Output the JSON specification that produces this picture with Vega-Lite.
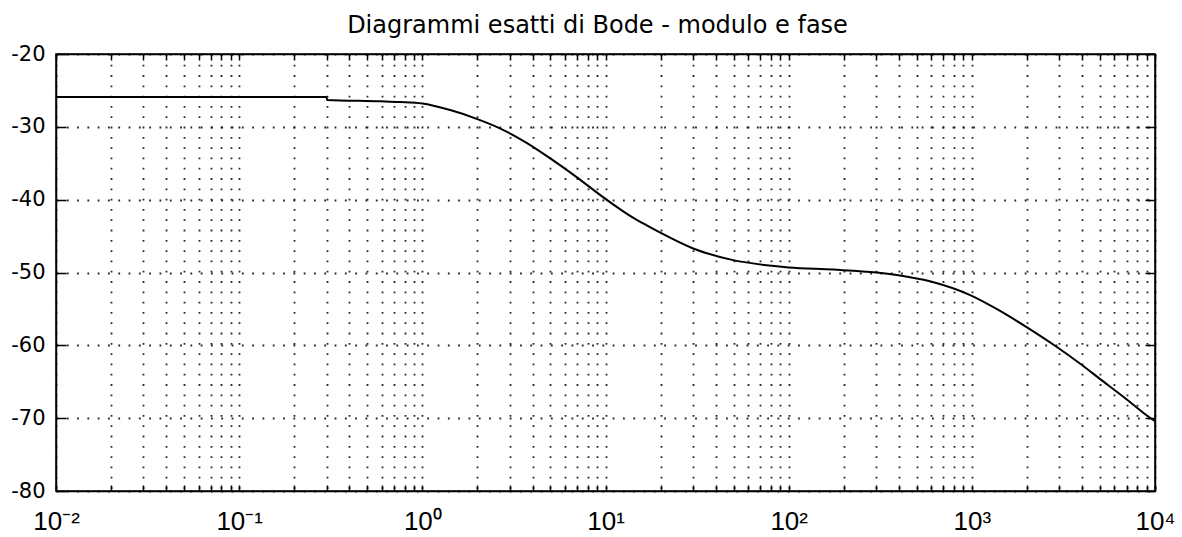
{
  "$schema": "https://vega.github.io/schema/vega-lite/v6.json",
  "width": 1099,
  "height": 437,
  "autosize": "none",
  "padding": {"left": 56, "top": 54, "right": 27, "bottom": 46},
  "background": "white",
  "title": {
    "text": "Diagrammi esatti di Bode - modulo e fase",
    "font": "DejaVu Sans",
    "fontSize": 24,
    "fontWeight": "normal",
    "color": "black",
    "anchor": "middle",
    "dx": -8,
    "offset": 5
  },
  "config": {
    "view": {"stroke": "black", "strokeWidth": 1.5},
    "axis": {
      "labelColor": "black",
      "domainColor": "black",
      "domainWidth": 1.5,
      "tickColor": "black",
      "tickWidth": 1.5,
      "labelOverlap": false,
      "labelFlush": false,
      "title": null
    }
  },
  "data": {
    "values": [
      {"x": 0.01, "y": -25.9},
      {"x": 0.3, "y": -25.9},
      {"x": 0.302, "y": -26.3},
      {"x": 0.59, "y": -26.5},
      {"x": 0.755, "y": -26.6},
      {"x": 1.0, "y": -26.8},
      {"x": 1.42, "y": -27.7},
      {"x": 1.98, "y": -28.9},
      {"x": 2.65, "y": -30.2},
      {"x": 3.71, "y": -32.2},
      {"x": 4.97, "y": -34.3},
      {"x": 6.95, "y": -36.9},
      {"x": 10, "y": -39.9},
      {"x": 14.2, "y": -42.5},
      {"x": 17, "y": -43.6},
      {"x": 19.8, "y": -44.5},
      {"x": 30.1, "y": -46.7},
      {"x": 49.8, "y": -48.3},
      {"x": 75.7, "y": -49.0},
      {"x": 100, "y": -49.3},
      {"x": 175, "y": -49.6},
      {"x": 302, "y": -50.0},
      {"x": 405, "y": -50.4},
      {"x": 590, "y": -51.2},
      {"x": 1000, "y": -53.2},
      {"x": 1365, "y": -55.0},
      {"x": 1990, "y": -57.5},
      {"x": 2900, "y": -60.2},
      {"x": 3890, "y": -62.5},
      {"x": 5000, "y": -64.6},
      {"x": 6990, "y": -67.4},
      {"x": 8990, "y": -69.6},
      {"x": 10000, "y": -70.4}
    ]
  },
  "layer": [
    {
      "mark": {"type": "line", "color": "black", "strokeWidth": 2, "clip": true, "interpolate": "monotone"},
      "encoding": {
        "x": {
          "field": "x", "type": "quantitative",
          "scale": {"type": "log", "domain": [0.01, 10000], "nice": false},
          "axis": {
            "orient": "bottom",
            "values": [0.01,0.02,0.03,0.04,0.05,0.06,0.07,0.08,0.09,0.1,0.2,0.3,0.4,0.5,0.6,0.7,0.8,0.9,1,2,3,4,5,6,7,8,9,10,20,30,40,50,60,70,80,90,100,200,300,400,500,600,700,800,900,1000,2000,3000,4000,5000,6000,7000,8000,9000,10000],
            "labelExpr": "abs(log(datum.value)/LN10 - round(log(datum.value)/LN10)) < 0.001 ? '10' + ['⁻²','⁻¹','⁰','¹','²','³','⁴'][round(log(datum.value)/LN10)+2] : ''",
            "labelFont": "Liberation Sans",
            "labelFontSize": 26,
            "labelPadding": 23,
            "tickSize": -6,
            "grid": true,
            "gridColor": "#111111",
            "gridOpacity": 0.9,
            "gridWidth": 1.8,
            "gridDash": [1.8, 8.5]
          }
        },
        "y": {
          "field": "y", "type": "quantitative",
          "scale": {"domain": [-80, -20], "nice": false, "zero": false},
          "axis": {
            "orient": "left",
            "values": [-80,-70,-60,-50,-40,-30,-20],
            "labelExpr": "'' + datum.value",
            "labelFont": "DejaVu Sans",
            "labelFontSize": 21,
            "labelPadding": 21,
            "tickSize": -10,
            "grid": true,
            "gridColor": "#111111",
            "gridOpacity": 0.9,
            "gridWidth": 1.8,
            "gridDash": [1.8, 8.5]
          }
        }
      }
    },
    {
      "mark": {"type": "line", "opacity": 0},
      "encoding": {
        "x": {
          "field": "x", "type": "quantitative",
          "scale": {"type": "log", "domain": [0.01, 10000], "nice": false},
          "axis": {
            "orient": "top",
            "values": [0.01,0.02,0.03,0.04,0.05,0.06,0.07,0.08,0.09,0.1,0.2,0.3,0.4,0.5,0.6,0.7,0.8,0.9,1,2,3,4,5,6,7,8,9,10,20,30,40,50,60,70,80,90,100,200,300,400,500,600,700,800,900,1000,2000,3000,4000,5000,6000,7000,8000,9000,10000],
            "labels": false,
            "tickSize": -6,
            "grid": false
          }
        },
        "y": {
          "field": "y", "type": "quantitative",
          "scale": {"domain": [-80, -20], "nice": false, "zero": false},
          "axis": {
            "orient": "right",
            "values": [-80,-70,-60,-50,-40,-30,-20],
            "labels": false,
            "tickSize": -10,
            "grid": false
          }
        }
      }
    }
  ],
  "resolve": {"axis": {"x": "independent", "y": "independent"}}
}
